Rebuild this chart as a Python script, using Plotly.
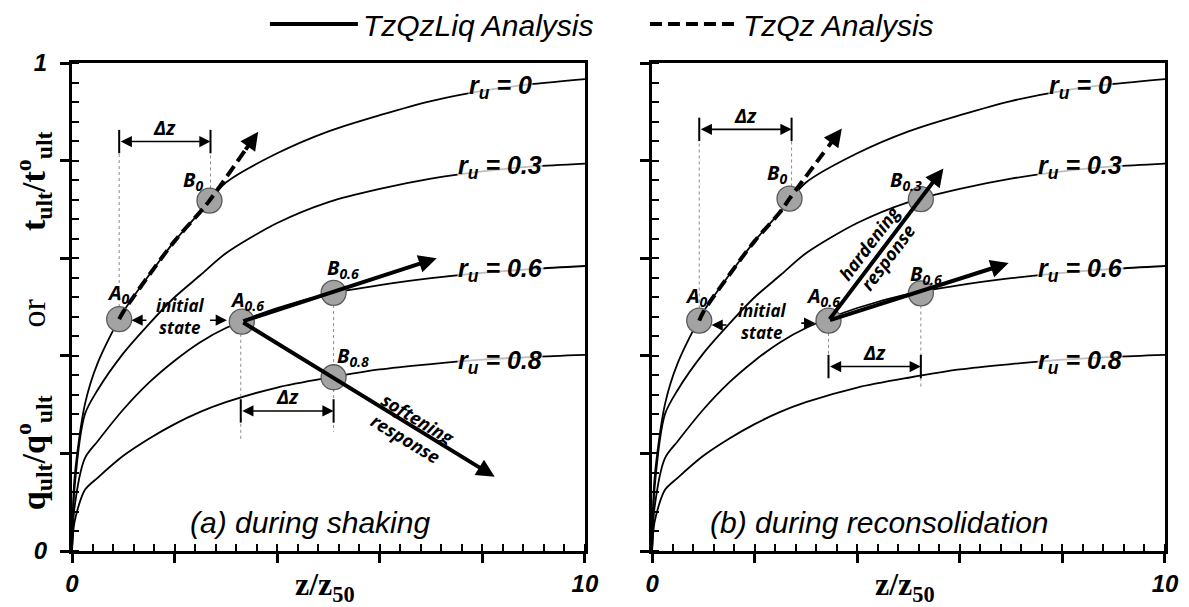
import plotly.graph_objects as go

# ---------------- data ----------------
x_grid = [0, 0.05, 0.25, 0.5, 1, 1.5, 2, 2.5, 3, 4, 5, 6, 7, 8, 9, 10]
ru_levels = ["0", "0.3", "0.6", "0.8"]
y_ru_0 = [0, 0.15, 0.30, 0.385, 0.49, 0.565, 0.635, 0.695, 0.755, 0.815, 0.86, 0.893, 0.922, 0.943, 0.957, 0.967]
y_ru_03 = [0, 0.13, 0.28, 0.33, 0.405, 0.465, 0.52, 0.565, 0.61, 0.672, 0.715, 0.742, 0.763, 0.778, 0.788, 0.794]
y_ru_06 = [0, 0.09, 0.19, 0.225, 0.29, 0.345, 0.39, 0.428, 0.457, 0.498, 0.527, 0.545, 0.559, 0.570, 0.578, 0.584]
y_ru_08 = [0, 0.06, 0.125, 0.15, 0.195, 0.23, 0.26, 0.285, 0.305, 0.335, 0.355, 0.372, 0.383, 0.392, 0.398, 0.402]
ru_label_x = 8.35
ru_label_y = [0.951, 0.786, 0.576, 0.388]

# state points (panel a: during shaking)
pa_names = ["A<sub>0</sub>", "B<sub>0</sub>", "A<sub>0.6</sub>", "B<sub>0.6</sub>", "B<sub>0.8</sub>"]
pa_x = [0.92, 2.68, 3.31, 5.10, 5.10]
pa_y = [0.475, 0.718, 0.470, 0.529, 0.356]
pa_label_x = [0.90, 2.36, 3.41, 5.29, 5.48]
pa_label_y = [0.528, 0.760, 0.514, 0.579, 0.398]
# arrow tips: dashed from A0 via B0, solid from A0.6 (two)
pa_dash_tip = [3.63, 0.859]
pa_solid_tips_x = [7.11, 8.24]
pa_solid_tips_y = [0.600, 0.152]

# state points (panel b: during reconsolidation)
pb_names = ["A<sub>0</sub>", "B<sub>0</sub>", "A<sub>0.6</sub>", "B<sub>0.3</sub>", "B<sub>0.6</sub>"]
pb_x = [0.92, 2.68, 3.44, 5.24, 5.24]
pb_y = [0.472, 0.722, 0.472, 0.721, 0.528]
pb_label_x = [0.87, 2.43, 3.34, 4.96, 5.35]
pb_label_y = [0.521, 0.774, 0.521, 0.760, 0.566]
pb_dash_tip = [3.70, 0.866]
pb_solid_tips_x = [5.68, 6.95]
pb_solid_tips_y = [0.784, 0.590]

# delta-z dimension lines: [x_start, x_end, y_line]
dz_a = [[0.92, 2.70, 0.839], [3.29, 5.10, 0.287]]
dz_b = [[0.92, 2.72, 0.864], [3.44, 5.24, 0.378]]
# dotted guide lines: x, y_from, y_to
guide_a_x = [0.92, 2.70, 3.29, 5.10]
guide_a_y0 = [0.500, 0.743, 0.445, 0.504]
guide_a_y1 = [0.816, 0.816, 0.227, 0.244]
guide_b_x = [0.92, 2.72, 3.44, 5.24]
guide_b_y0 = [0.497, 0.747, 0.447, 0.503]
guide_b_y1 = [0.842, 0.842, 0.350, 0.336]

# "initial state" text and its arrows
init_a = [2.11, 0.480]
init_b = [2.14, 0.471]
init_a_left = [1.48, 1.16, 0.473]   # tail x, tip x, y
init_a_right = [2.66, 3.02, 0.473]
init_b_left = [1.48, 1.16, 0.463]
init_b_right = [2.88, 3.18, 0.467]

soft_pos = [6.63, 0.252, 31]
hard_pos = [4.42, 0.617, -53]

x_major = [0, 2, 4, 6, 8, 10]
x_ticktext = ["0", "", "", "", "", "10"]
y_major = [0, 0.2, 0.4, 0.6, 0.8, 1.0]
y_ticktext = ["0", "", "", "", "", "1"]
captions = ["(a) during shaking", "(b) during reconsolidation"]
caption_x = [4.64, 4.44]

# ---------------- figure ----------------
fig = go.Figure()
curves = [y_ru_0, y_ru_03, y_ru_06, y_ru_08]

SANS = "Liberation Sans"
LAB = "Open Sans"
SERIF = "Liberation Serif"


def seg_trace(xs, ys0, ys1, xa, ya, color, width, dash):
    X, Y = [], []
    for x, a, b in zip(xs, ys0, ys1):
        X += [x, x, None]
        Y += [a, b, None]
    return go.Scatter(x=X, y=Y, xaxis=xa, yaxis=ya, mode="lines",
                      line=dict(color=color, width=width, dash=dash),
                      showlegend=False, hoverinfo="skip")


def dashed_path(px, py, tip, xa, ya):
    xs = [px[0]] + [x for x in x_grid if px[0] < x < px[1]] + [px[1]]
    ys = [py[0]] + [y for x, y in zip(x_grid, curves[0]) if px[0] < x < px[1]] + [py[1]]
    pre = [px[1] + 0.72 * (tip[0] - px[1]), py[1] + 0.72 * (tip[1] - py[1])]
    xs.append(pre[0]); ys.append(pre[1])
    tr = go.Scatter(x=xs, y=ys, xaxis=xa, yaxis=ya, mode="lines", line_shape="spline",
                    line=dict(color="black", width=4, dash="12px,6px"),
                    showlegend=False, hoverinfo="skip")
    return tr, pre


annotations = []
shapes = []


def arrow(xa, ya, x0, y0, x1, y1, width, size, side="end"):
    return dict(x=x1, y=y1, ax=x0, ay=y0, xref=xa, yref=ya, axref=xa, ayref=ya,
                text="", showarrow=True, arrowhead=2, arrowsize=size, arrowwidth=width,
                startarrowhead=2, startarrowsize=size, arrowside=side, arrowcolor="black")


def labfont(size):
    return dict(family=LAB, size=size, color="black", weight="bold", style="italic")


panels = [
    dict(xa="x", ya="y", names=pa_names, px=pa_x, py=pa_y, lx=pa_label_x, ly=pa_label_y,
         dtip=pa_dash_tip, stx=pa_solid_tips_x, sty=pa_solid_tips_y, dz=dz_a,
         gx=guide_a_x, gy0=guide_a_y0, gy1=guide_a_y1, init=init_a,
         il=init_a_left, ir=init_a_right, cap=captions[0], capx=caption_x[0]),
    dict(xa="x2", ya="y2", names=pb_names, px=pb_x, py=pb_y, lx=pb_label_x, ly=pb_label_y,
         dtip=pb_dash_tip, stx=pb_solid_tips_x, sty=pb_solid_tips_y, dz=dz_b,
         gx=guide_b_x, gy0=guide_b_y0, gy1=guide_b_y1, init=init_b,
         il=init_b_left, ir=init_b_right, cap=captions[1], capx=caption_x[1]),
]

for i, P in enumerate(panels):
    xa, ya = P["xa"], P["ya"]
    for yc in curves:
        fig.add_trace(go.Scatter(x=x_grid, y=yc, xaxis=xa, yaxis=ya, mode="lines",
                                 line=dict(color="black", width=1.8, shape="spline", smoothing=0.8),
                                 showlegend=False, hoverinfo="skip"))
    # dotted guides
    fig.add_trace(seg_trace(P["gx"], P["gy0"], P["gy1"], xa, ya, "#8c8c8c", 1, "dot"))
    # dimension end ticks
    tx, t0, t1 = [], [], []
    for d in P["dz"]:
        for xx in d[:2]:
            tx.append(xx); t0.append(d[2] - 0.024); t1.append(d[2] + 0.024)
    fig.add_trace(seg_trace(tx, t0, t1, xa, ya, "black", 2, "solid"))
    # state markers
    fig.add_trace(go.Scatter(x=P["px"], y=P["py"], xaxis=xa, yaxis=ya, mode="markers",
                             marker=dict(size=25, color="#a3a3a3", line=dict(color="#5a5a5a", width=1.3)),
                             showlegend=False, hoverinfo="skip"))
    # dashed TzQz path
    tr, pre = dashed_path(P["px"][:2], P["py"][:2], P["dtip"], xa, ya)
    fig.add_trace(tr)
    annotations.append(arrow(xa, ya, pre[0], pre[1], P["dtip"][0], P["dtip"][1], 4, 0.9))
    # solid TzQzLiq arrows
    for tx_, ty_ in zip(P["stx"], P["sty"]):
        annotations.append(arrow(xa, ya, P["px"][2], P["py"][2], tx_, ty_, 4, 0.9))
    # dimension arrows + labels
    for d in P["dz"]:
        annotations.append(arrow(xa, ya, d[0], d[2], d[1], d[2], 1.6, 1.4, "end+start"))
        annotations.append(dict(x=(d[0] + d[1]) / 2, y=d[2], xref=xa, yref=ya, yshift=14,
                                text="Δz", showarrow=False, font=labfont(20)))
    # point labels
    for nm, lx, ly in zip(P["names"], P["lx"], P["ly"]):
        annotations.append(dict(x=lx, y=ly, xref=xa, yref=ya, text=nm, showarrow=False,
                                font=labfont(20)))
    # initial state
    annotations.append(dict(x=P["init"][0], y=P["init"][1], xref=xa, yref=ya,
                            text="initial<br>state", showarrow=False, font=labfont(17)))
    annotations.append(arrow(xa, ya, P["il"][0], P["il"][2], P["il"][1], P["il"][2], 1.6, 1.4))
    annotations.append(arrow(xa, ya, P["ir"][0], P["ir"][2], P["ir"][1], P["ir"][2], 1.6, 1.4))
    # r_u labels
    for lev, ly in zip(ru_levels, ru_label_y):
        annotations.append(dict(x=ru_label_x, y=ly, xref=xa, yref=ya,
                                text="r<sub>u</sub> = " + lev, showarrow=False,
                                bgcolor="rgba(255,255,255,0.75)", borderpad=0,
                                font=dict(family=SANS, size=25, color="black", weight="bold", style="italic")))
    # caption
    annotations.append(dict(x=P["capx"], y=0.059, xref=xa, yref=ya, text=P["cap"], showarrow=False,
                            font=dict(family=SANS, size=30, color="black", style="italic")))
    shapes.append(dict(type="rect", xref=xa, yref=ya, x0=7.5, x1=9.26, y0=0.99, y1=1.01,
                       fillcolor="rgba(255,255,255,0.7)", line=dict(width=0), layer="above"))

# softening / hardening text
annotations.append(dict(x=soft_pos[0], y=soft_pos[1], xref="x", yref="y", text="softening<br>response",
                        textangle=soft_pos[2], showarrow=False, font=labfont(18)))
annotations.append(dict(x=hard_pos[0], y=hard_pos[1], xref="x2", yref="y2", text="hardening<br>response",
                        textangle=hard_pos[2], showarrow=False, font=labfont(18)))

# axis titles
nb = "&nbsp;" * 8
annotations.append(dict(x=-0.0357, y=0.473, xref="paper", yref="paper", textangle=-90, showarrow=False,
                        xanchor="center", yanchor="middle",
                        text="<b>q<sub>ult</sub>/q<sup>o</sup><sub>ult</sub></b>" + nb + "or" + nb +
                             "<b>t<sub>ult</sub>/t<sup>o</sup><sub>ult</sub></b>",
                        font=dict(family=SERIF, size=34, color="black")))
for xc in [0.2315, 0.762]:
    annotations.append(dict(x=xc, y=-0.072, xref="paper", yref="paper", showarrow=False,
                            text="<b>z/z<sub>50</sub></b>", xanchor="center", yanchor="middle",
                            font=dict(family=SERIF, size=32, color="black")))

# legend entries
fig.add_trace(go.Scatter(x=[None], y=[None], mode="lines", name="TzQzLiq Analysis",
                         line=dict(color="black", width=4), legend="legend"))
fig.add_trace(go.Scatter(x=[None], y=[None], mode="lines", name="TzQz Analysis",
                         line=dict(color="black", width=4, dash="12px,6px"), legend="legend2"))

tickfont = dict(family=SANS, size=24, color="black", weight="bold", style="italic")


def xcfg(domain, anchor):
    return dict(domain=domain, range=[0, 10], anchor=anchor, tickmode="array",
                tickvals=x_major, ticktext=x_ticktext, ticks="outside", ticklen=9,
                tickwidth=2.5, tickcolor="black",
                minor=dict(tickmode="linear", tick0=0, dtick=0.4, ticks="inside",
                           ticklen=7, tickwidth=2, tickcolor="black"),
                showline=True, linewidth=3, linecolor="black", mirror=True,
                showgrid=False, zeroline=False, tickfont=tickfont, ticklabelstandoff=0)


def ycfg(anchor, labels):
    return dict(domain=[0, 1], range=[0, 1], anchor=anchor, tickmode="array",
                tickvals=y_major, ticktext=labels, ticks="outside", ticklen=9,
                tickwidth=2.5, tickcolor="black",
                minor=dict(tickmode="linear", tick0=0, dtick=0.04, ticks="inside",
                           ticklen=7, tickwidth=2, tickcolor="black"),
                showline=True, linewidth=3, linecolor="black", mirror=True,
                showgrid=False, zeroline=False, tickfont=tickfont, ticklabelstandoff=8)


legfont = dict(family=SANS, size=30, color="black", style="italic")
# the page body adds an 8px offset, so the figure is 8px smaller than the window
fig.update_layout(
    width=1181, height=599,
    margin=dict(l=64, r=24, t=55, b=56, autoexpand=False),
    paper_bgcolor="white", plot_bgcolor="white",
    xaxis=xcfg([0, 0.4693], "y"),
    yaxis=ycfg("x", y_ticktext),
    xaxis2=xcfg([0.5307, 1], "y2"),
    yaxis2=ycfg("x2", [""] * 6),
    showlegend=True,
    legend=dict(orientation="h", x=0.1765, xanchor="left", y=1.08, yanchor="middle",
                itemwidth=88, bgcolor="rgba(0,0,0,0)", font=legfont),
    legend2=dict(orientation="h", x=0.5242, xanchor="left", y=1.08, yanchor="middle",
                 itemwidth=88, bgcolor="rgba(0,0,0,0)", font=legfont),
    annotations=annotations,
    shapes=shapes,
)

fig.write_html("out.html")
